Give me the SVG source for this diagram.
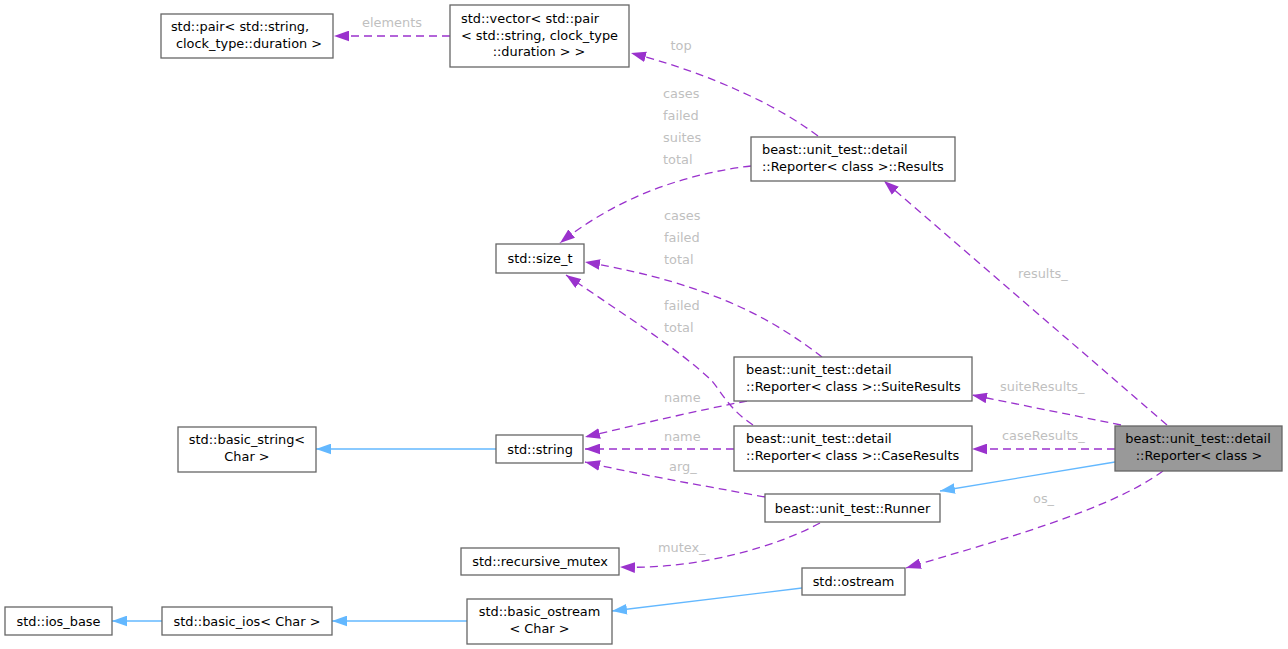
<svg xmlns="http://www.w3.org/2000/svg" width="1288" height="649" viewBox="0 0 1288 649">
<style>
text{font-family:"DejaVu Sans","Liberation Sans",sans-serif;font-size:12.9px;fill:#000}
.n rect{fill:#fff;stroke:#666;stroke-width:1.3}
.n.root rect{fill:#999}
.m{text-anchor:middle}
.lbl{fill:#bfbfbf}
.d{fill:none;stroke:#9a32cd;stroke-width:1.3;stroke-dasharray:8,5;marker-end:url(#ap)}
.s{fill:none;stroke:#63b8ff;stroke-width:1.3;marker-end:url(#ab)}
</style>
<defs>
<marker id="ap" markerUnits="userSpaceOnUse" markerWidth="15" markerHeight="11" viewBox="0 0 14 10" refX="14" refY="5" orient="auto"><path d="M0,0 L14,5 L0,10 z" fill="#9a32cd"/></marker>
<marker id="ab" markerUnits="userSpaceOnUse" markerWidth="15" markerHeight="11" viewBox="0 0 14 10" refX="14" refY="5" orient="auto"><path d="M0,0 L14,5 L0,10 z" fill="#63b8ff"/></marker>
</defs>
<rect width="1288" height="649" fill="#fff"/>
<g id="connectors">
<path class="d" d="M450,36 L334,36"/>
<path class="d" d="M818,136 C790,115 760,100 735,89 C710,78 680,66 631,53"/>
<path class="d" d="M751,166 C690,173 620,195 560,243"/>
<path class="d" d="M822,357 C780,325 720,285 585,262"/>
<path class="d" d="M753,425 C730,410 722,393 712,381 C680,350 620,312 566,275"/>
<path class="d" d="M747,401 C700,410 640,424 585,437"/>
<path class="d" d="M734,449 L585,449"/>
<path class="d" d="M765,497 C700,485 640,475 585,462"/>
<path class="d" d="M820,523 C780,545 700,570 620,567"/>
<path class="d" d="M1167,425 L884,181"/>
<path class="d" d="M1121,425 L972,395"/>
<path class="d" d="M1115,449 L972,449"/>
<path class="d" d="M1163,471 C1110,510 1000,540 906,568"/>
<path class="s" d="M1115,462 L940,491"/>
<path class="s" d="M802,588 L612,611"/>
<path class="s" d="M467,621 L332,621"/>
<path class="s" d="M162,621 L112,621"/>
<path class="s" d="M496,449 L316,449"/>
<text class="lbl m" x="392" y="27">elements</text>
<text class="lbl m" x="681" y="50">top</text>
<text class="lbl" x="663" y="98">cases</text>
<text class="lbl" x="663" y="120">failed</text>
<text class="lbl" x="663" y="142">suites</text>
<text class="lbl" x="663" y="164">total</text>
<text class="lbl" x="664" y="220">cases</text>
<text class="lbl" x="664" y="242">failed</text>
<text class="lbl" x="664" y="264">total</text>
<text class="lbl" x="664" y="310">failed</text>
<text class="lbl" x="664" y="332">total</text>
<text class="lbl" x="664" y="402">name</text>
<text class="lbl" x="664" y="441">name</text>
<text class="lbl" x="669" y="471">arg_</text>
<text class="lbl" x="658" y="552">mutex_</text>
<text class="lbl" x="1018" y="278">results_</text>
<text class="lbl" x="1000" y="391">suiteResults_</text>
<text class="lbl" x="1002" y="440">caseResults_</text>
<text class="lbl" x="1033" y="503">os_</text>
</g>
<g id="n_pair" class="n"><rect x="161" y="14" width="172" height="44"/><text class="m" x="240" y="31">std::pair&lt; std::string,</text><text class="m" x="249" y="48">clock_type::duration &gt;</text></g>
<g id="n_vector" class="n"><rect x="450" y="5" width="179" height="62"/><text class="m" x="530" y="23">std::vector&lt; std::pair</text><text class="m" x="539.5" y="40">&lt; std::string, clock_type</text><text class="m" x="539" y="56">::duration &gt; &gt;</text></g>
<g id="n_results" class="n"><rect x="751" y="137" width="204" height="44"/><text x="762" y="154">beast::unit_test::detail</text><text x="762" y="171">::Reporter&lt; class &gt;::Results</text></g>
<g id="n_size_t" class="n"><rect x="496" y="244" width="88" height="29"/><text class="m" x="540" y="263">std::size_t</text></g>
<g id="n_suite" class="n"><rect x="734" y="357" width="238" height="44"/><text x="746" y="374">beast::unit_test::detail</text><text x="746" y="391">::Reporter&lt; class &gt;::SuiteResults</text></g>
<g id="n_case" class="n"><rect x="734" y="426" width="238" height="45"/><text x="746" y="443">beast::unit_test::detail</text><text x="746" y="460">::Reporter&lt; class &gt;::CaseResults</text></g>
<g id="n_string" class="n"><rect x="496" y="435" width="87" height="28"/><text class="m" x="540" y="453.5">std::string</text></g>
<g id="n_basic_string" class="n"><rect x="178" y="427" width="138" height="45"/><text class="m" x="247" y="444">std::basic_string&lt;</text><text class="m" x="247" y="461">Char &gt;</text></g>
<g id="n_reporter" class="n root"><rect x="1115" y="426" width="167" height="45"/><text class="m" x="1198" y="443">beast::unit_test::detail</text><text class="m" x="1199" y="460">::Reporter&lt; class &gt;</text></g>
<g id="n_runner" class="n"><rect x="765" y="494" width="175" height="28"/><text class="m" x="852.5" y="512.5">beast::unit_test::Runner</text></g>
<g id="n_mutex" class="n"><rect x="461" y="548" width="158" height="27"/><text class="m" x="540" y="566">std::recursive_mutex</text></g>
<g id="n_ostream" class="n"><rect x="802" y="568" width="103" height="27"/><text class="m" x="853.5" y="586">std::ostream</text></g>
<g id="n_basic_ostream" class="n"><rect x="467" y="599" width="145" height="45"/><text class="m" x="539.5" y="616">std::basic_ostream</text><text class="m" x="539.5" y="633">&lt; Char &gt;</text></g>
<g id="n_ios_base" class="n"><rect x="5" y="607" width="107" height="28"/><text class="m" x="58.5" y="625.5">std::ios_base</text></g>
<g id="n_basic_ios" class="n"><rect x="162" y="607" width="170" height="28"/><text class="m" x="247" y="625.5">std::basic_ios&lt; Char &gt;</text></g>
</svg>
